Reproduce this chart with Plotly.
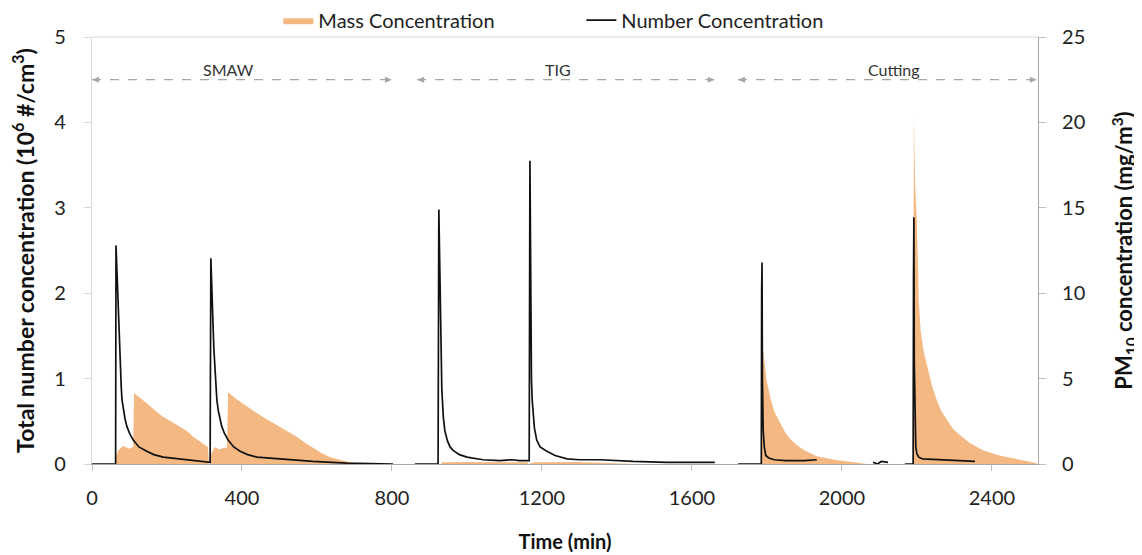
import plotly.graph_objects as go

# ---------------- data ----------------
# PM10 mass concentration (mg/m3) vs time (min)
time_mass = [0, 63, 65, 70, 75, 82, 90, 98, 105, 110, 112, 130, 146, 170, 190, 215, 235, 255,
             270, 290, 309, 312,
             314, 318, 325, 330, 338, 345, 352, 360, 363, 385, 413, 435, 456, 480, 501, 525,
             546, 568, 589, 612, 635, 660, 680, 710, 741, 800,
             861, 930, 935, 1000, 1100, 1160, 1165, 1180, 1300, 1400, 1450, 1661,
             1723, 1785, 1786, 1787, 1790, 1795, 1799, 1805, 1810, 1821, 1830, 1840, 1850,
             1861, 1880, 1900, 1933, 1980, 2029, 2067,
             2188, 2190, 2191, 2192, 2195, 2198, 2200, 2205, 2210, 2218, 2227, 2240, 2253,
             2265, 2280, 2295, 2309, 2340, 2376, 2420, 2475, 2520]
mass_mg = [0, 0, 0.5, 0.8, 0.9, 1.05, 1.0, 0.9, 0.95, 1.0, 4.15, 3.85, 3.55, 3.1, 2.75, 2.45,
           2.2, 1.9, 1.6, 1.3, 1.0, 0,
           0, 0.6, 0.9, 1.0, 0.85, 0.9, 0.95, 0.95, 4.2, 3.8, 3.35, 3.05, 2.75, 2.45, 2.2, 1.9,
           1.6, 1.25, 0.95, 0.65, 0.4, 0.25, 0.15, 0.05, 0, 0,
           0, 0, 0.1, 0.12, 0.1, 0.1, 0, 0.1, 0.12, 0.05, 0, 0,
           0, 0, 5.0, 7.7, 6.6, 5.6, 4.9, 4.3, 3.8, 3.0, 2.6, 2.2, 1.8,
           1.5, 1.1, 0.8, 0.45, 0.25, 0.1, 0,
           0, 0, 12.0, 20.3, 16.5, 15.0, 14.2, 9.6, 7.8, 6.6, 5.7, 4.6, 3.75,
           3.1, 2.6, 2.1, 1.8, 1.25, 0.8, 0.5, 0.25, 0.05]

# Total number concentration (10^6 #/cm3) vs time (min); None = gap
time_num = [0, 63, 64, 66, 68, 70, 72, 74, 76, 78, 80, 84, 88, 93, 100, 110, 125, 146,
            165, 190, 235, 270, 309, 315,
            317, 319, 321, 323, 325, 327, 329, 331, 333, 337, 341, 346, 353, 363, 378, 395,
            415, 440, 501, 589, 680, 803,
            830,
            861, 923, 925, 927, 929, 931, 933, 937, 941, 948, 955, 963, 980, 1000, 1043,
            1088, 1120, 1140, 1166,
            1168, 1169, 1170, 1172, 1174, 1176, 1180, 1186, 1195, 1213, 1235, 1267, 1300,
            1355, 1400, 1443, 1533, 1661,
            1690,
            1723, 1785, 1786, 1787, 1788, 1790, 1793, 1797, 1805, 1820, 1850, 1900, 1933,
            2000,
            2083, 2095, 2105, 2123,
            2140,
            2168, 2190, 2191, 2192, 2193, 2195, 2197, 2200, 2205, 2215, 2253, 2300, 2355]
num_1e6 = [0, 0, 2.56, 2.3, 2.0, 1.75, 1.53, 1.3, 1.08, 0.9, 0.75, 0.62, 0.53, 0.44, 0.36,
           0.28, 0.2, 0.15, 0.11, 0.08, 0.06, 0.04, 0.03, 0.02,
           2.41, 2.2, 1.9, 1.6, 1.35, 1.15, 1.0, 0.86, 0.75, 0.62, 0.52, 0.44, 0.36, 0.28,
           0.2, 0.15, 0.11, 0.08, 0.06, 0.03, 0.01, 0,
           None,
           0, 0, 2.98, 2.3, 1.6, 1.15, 0.87, 0.55, 0.39, 0.27, 0.2, 0.16, 0.11, 0.08, 0.05,
           0.04, 0.05, 0.04, 0.04,
           3.55, 2.85, 1.5, 1.0, 0.75, 0.6, 0.42, 0.28, 0.2, 0.15, 0.1, 0.06, 0.05,
           0.05, 0.04, 0.03, 0.02, 0.02,
           None,
           0, 0, 2.03, 2.36, 1.0, 0.4, 0.2, 0.1, 0.07, 0.05, 0.04, 0.04, 0.05,
           None,
           0.02, 0.0, 0.03, 0.02,
           None,
           0, 0, 2.18, 2.89, 1.2, 0.45, 0.2, 0.12, 0.08, 0.06, 0.05, 0.04, 0.03]

# welding / cutting process periods
processes = ["SMAW", "TIG", "Cutting"]
proc_start = [0, 867, 1723]
proc_end = [800, 1661, 2520]
proc_label_x = [363, 1243, 2139]
proc_level = 4.5

x_ticks = [0, 400, 800, 1200, 1600, 2000, 2400]

FONT = "Lato"
ORANGE = "#f4b883"
ARROW = "#a6a6a6"

fig = go.Figure()
fig.add_trace(go.Scatter(
    x=time_mass, y=mass_mg, name="Mass Concentration", mode="lines",
    fill="tozeroy", fillcolor=ORANGE, line=dict(width=0, color=ORANGE),
    yaxis="y"))
fig.add_trace(go.Scatter(
    x=time_num, y=num_1e6, name="Number Concentration", mode="lines",
    line=dict(width=1.7, color="#111111"), connectgaps=False, yaxis="y2"))

shapes = []
annotations = []
for name, s, e, lx in zip(processes, proc_start, proc_end, proc_label_x):
    shapes.append(dict(type="line", xref="x", yref="y2", x0=s, x1=e,
                       y0=proc_level, y1=proc_level,
                       line=dict(color=ARROW, width=1.3, dash="dash")))
    # arrow heads (pixel-sized, anchored at the period ends)
    shapes.append(dict(type="path", xref="x", yref="y2", xsizemode="pixel",
                       ysizemode="pixel", xanchor=s, yanchor=proc_level,
                       path="M 0 0 L 7 3 L 7 -3 Z", fillcolor=ARROW,
                       line=dict(width=0)))
    shapes.append(dict(type="path", xref="x", yref="y2", xsizemode="pixel",
                       ysizemode="pixel", xanchor=e, yanchor=proc_level,
                       path="M 0 0 L -7 3 L -7 -3 Z", fillcolor=ARROW,
                       line=dict(width=0)))
    annotations.append(dict(x=lx, y=proc_level, xref="x", yref="y2", text=name,
                            showarrow=False, yanchor="bottom", yshift=-1,
                            font=dict(family=FONT, size=16, color="#333333")))

# top frame line
shapes.append(dict(type="line", xref="paper", yref="paper", x0=0, x1=1, y0=1, y1=1,
                   line=dict(color="#d9d9d9", width=1.2)))

# the page adds an 8px body margin, so the figure is sized to fit the window
fig.update_layout(
    width=1134, height=547,
    margin=dict(l=84, r=104, t=29, b=91, autoexpand=False),
    paper_bgcolor="white", plot_bgcolor="white",
    font=dict(family=FONT, size=20, color="#222222"),
    showlegend=True,
    legend=dict(orientation="h", x=0.197, xanchor="left", y=1.085, yanchor="top",
                font=dict(family=FONT, size=20, color="#222222"),
                itemwidth=30, entrywidth=258, bgcolor="rgba(0,0,0,0)"),
    xaxis=dict(range=[0, 2523], tickvals=x_ticks, showgrid=False, zeroline=False,
               showline=True, linecolor="#a6a6a6", linewidth=1.2,
               ticks="outside", ticklen=6, tickcolor="#bfbfbf",
               ticklabelstandoff=10,
               tickfont=dict(family=FONT, size=20, color="#222222"),
               title=dict(text="<b>Time (min)</b>", standoff=26,
                          font=dict(family=FONT, size=20, color="#111111"))),
    yaxis=dict(side="right", range=[0, 25], dtick=5, showgrid=False, zeroline=False,
               showline=True, linecolor="#a6a6a6", linewidth=1.2,
               ticks="outside", ticklen=7, tickcolor="#bfbfbf",
               ticklabelstandoff=12,
               tickfont=dict(family=FONT, size=20, color="#222222"),
               title=dict(text="<b>PM<sub>10</sub> concentration (mg/m<sup>3</sup>)</b>",
                          standoff=32,
                          font=dict(family=FONT, size=22, color="#111111"))),
    yaxis2=dict(side="left", overlaying="y", range=[0, 5], dtick=1, showgrid=False,
                zeroline=False, showline=True, linecolor="#d9d9d9", linewidth=1.2,
                ticks="outside", ticklen=7, tickcolor="#d9d9d9",
                ticklabelstandoff=14,
                tickfont=dict(family=FONT, size=20, color="#222222"),
                title=dict(text="<b>Total number concentration (10<sup>6</sup> #/cm<sup>3</sup>)</b>",
                           standoff=19,
                           font=dict(family=FONT, size=23, color="#111111"))),
    shapes=shapes,
    annotations=annotations,
)

fig.write_html("out.html")
